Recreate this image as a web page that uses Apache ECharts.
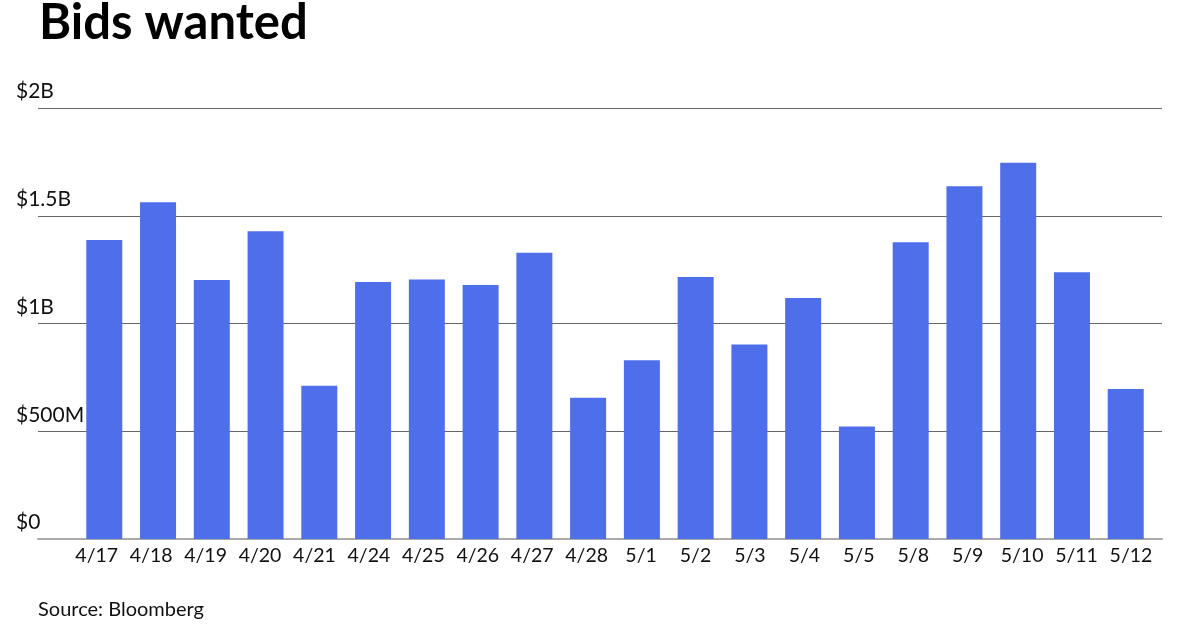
<!DOCTYPE html>
<html>
<head>
<meta charset="utf-8">
<script src="https://cdn.jsdelivr.net/npm/echarts@6/dist/echarts.min.js"></script>
<style>
html,body{margin:0;padding:0;background:#fff;}
#chart{width:1200px;height:630px;}
</style>
</head>
<body>
<div id="chart"></div>
<script>
const categories = ["4/17","4/18","4/19","4/20","4/21","4/24","4/25","4/26","4/27","4/28","5/1","5/2","5/3","5/4","5/5","5/8","5/9","5/10","5/11","5/12"];
const values = [1.388,1.563,1.202,1.428,0.711,1.193,1.204,1.179,1.328,0.655,0.829,1.216,0.903,1.118,0.522,1.377,1.637,1.746,1.238,0.696]; // billions
const tickLabels = {0:"$0",0.5:"$500M",1:"$1B",1.5:"$1.5B",2:"$2B"};

const FONT = "Lato, 'Noto Sans', sans-serif";
const chart = echarts.init(document.getElementById('chart'), null, {renderer:'canvas'});
chart.setOption({
  animation:false,
  backgroundColor:'#fff',
  title:[
    {text:'Bids wanted', left:34, top:-6, textStyle:{fontFamily:FONT, fontWeight:'bold', fontSize:49, color:'#000'}},
    {text:'Source: Bloomberg', left:33, top:595, textStyle:{fontFamily:FONT, fontWeight:'normal', fontSize:20, color:'#111'}}
  ],
  grid:[
    {left:38, right:38, top:108, bottom:91},
    {left:77.4, right:47.4, top:108, bottom:91},
    {left:69.5, right:41.8, top:108, bottom:91}
  ],
  xAxis:[
    {gridIndex:0, type:'value', min:0, max:1, show:true,
     axisLine:{show:true, lineStyle:{color:'#aaaaaa', width:2}},
     axisTick:{show:false}, axisLabel:{show:false}, splitLine:{show:false}},
    {gridIndex:1, type:'category', data:categories,
     axisLine:{show:false}, axisTick:{show:false}, axisLabel:{show:false}},
    {gridIndex:2, type:'category', data:categories,
     axisLine:{show:false}, axisTick:{show:false},
     axisLabel:{fontFamily:FONT, fontSize:19.5, color:'#111', margin:7, interval:0}}
  ],
  yAxis:[
    {gridIndex:0, type:'value', min:0, max:2, interval:0.5,
     axisLine:{show:false}, axisTick:{show:false},
     splitLine:{show:true, lineStyle:{color:'#666666', width:1}},
     axisLabel:{fontFamily:FONT, fontSize:21, color:'#111', align:'left', margin:22,
       verticalAlign:'bottom', padding:[0,0,6,0],
       formatter:v=>tickLabels[v]}},
    {gridIndex:1, type:'value', min:0, max:2, show:false, splitLine:{show:false}},
    {gridIndex:2, type:'value', min:0, max:2, show:false, splitLine:{show:false}}
  ],
  series:[
    {type:'bar', xAxisIndex:1, yAxisIndex:1, data:values, barWidth:36,
     itemStyle:{color:'#4F6FEA'}}
  ]
});
</script>
</body>
</html>
